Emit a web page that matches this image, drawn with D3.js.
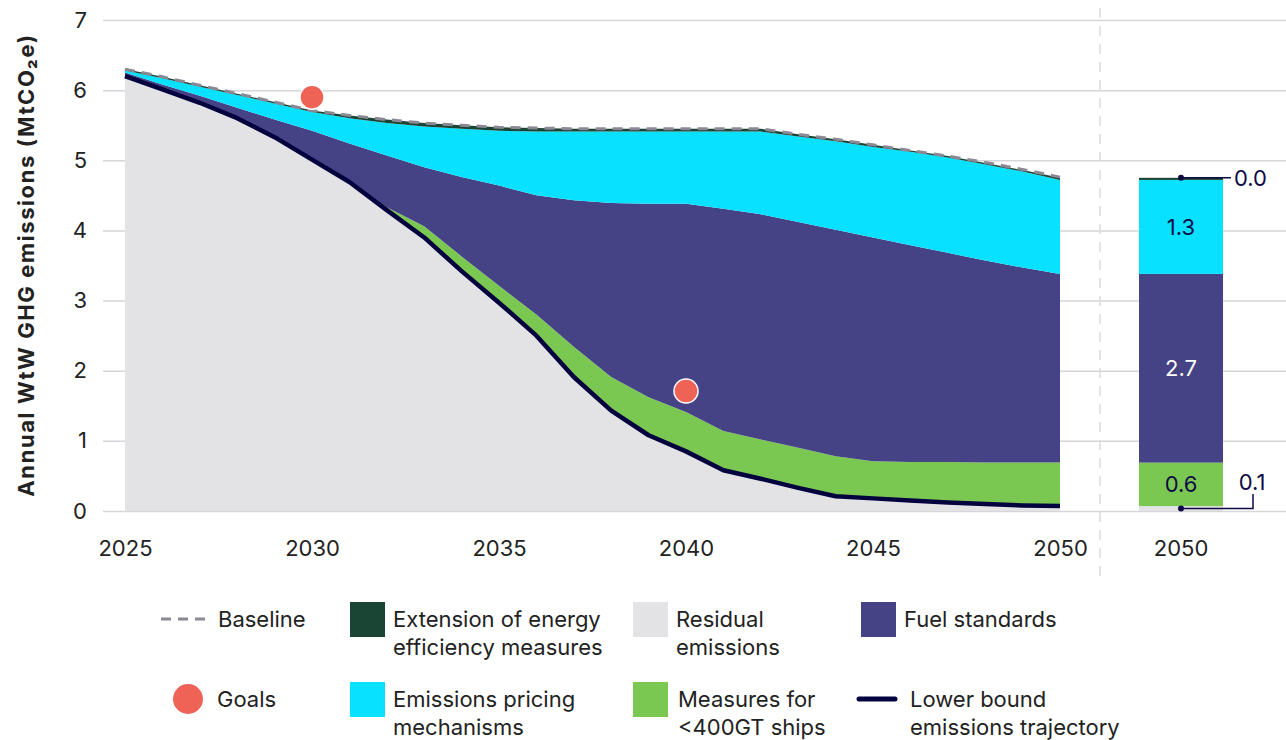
<!DOCTYPE html>
<html>
<head>
<meta charset="utf-8">
<script src="https://cdn.jsdelivr.net/npm/d3@7"></script>
<style>
  html, body { margin: 0; padding: 0; background: #fff; }
  svg { display: block; font-family: Inter, "Noto Sans", sans-serif; }
</style>
</head>
<body>
<svg id="chart" width="1286" height="740"></svg>
<script>
// Years on the horizontal axis
const years = [2025, 2026, 2027, 2028, 2029, 2030, 2031, 2032, 2033, 2034, 2035, 2036, 2037,
               2038, 2039, 2040, 2041, 2042, 2043, 2044, 2045, 2046, 2047, 2048, 2049, 2050];

// Stacked components, MtCO2e (bottom to top)
const residual = [6.20, 6.01, 5.82, 5.60, 5.33, 5.01, 4.69, 4.29, 3.90, 3.42, 2.97, 2.50, 1.91,
                  1.43, 1.08, 0.85, 0.58, 0.46, 0.33, 0.21, 0.18, 0.15, 0.12, 0.10, 0.08, 0.07];
const smallShips = [0, 0, 0, 0, 0, 0, 0, 0.04, 0.16, 0.21, 0.24, 0.30, 0.43,
                    0.48, 0.54, 0.56, 0.56, 0.56, 0.57, 0.57, 0.53, 0.55, 0.58, 0.59, 0.61, 0.62];
const fuelStandards = [0.05, 0.07, 0.10, 0.15, 0.25, 0.41, 0.55, 0.74, 0.84, 1.13, 1.43, 1.70, 2.09,
                       2.48, 2.76, 2.97, 3.17, 3.21, 3.22, 3.23, 3.19, 3.09, 2.98, 2.88, 2.78, 2.69];
const pricing = [0.03, 0.09, 0.13, 0.18, 0.23, 0.27, 0.36, 0.46, 0.58, 0.69, 0.78, 0.91, 0.98,
                 1.02, 1.03, 1.03, 1.10, 1.18, 1.22, 1.26, 1.29, 1.33, 1.36, 1.37, 1.37, 1.34];
const efficiency = [0.02, 0.02, 0.02, 0.02, 0.02, 0.02, 0.04, 0.05, 0.05, 0.05, 0.05, 0.05, 0.04,
                    0.04, 0.04, 0.04, 0.04, 0.04, 0.03, 0.03, 0.03, 0.02, 0.02, 0.02, 0.02, 0.03];

// Baseline trajectory (dashed)
const baseline = [6.30, 6.19, 6.07, 5.95, 5.83, 5.71, 5.64, 5.58, 5.53, 5.50, 5.47, 5.46, 5.45,
                  5.45, 5.45, 5.45, 5.45, 5.45, 5.37, 5.30, 5.22, 5.14, 5.06, 4.97, 4.87, 4.76];

// Goal markers
const goalYears = [2030, 2040];
const goalValues = [5.90, 1.71];

const yTicks = [0, 1, 2, 3, 4, 5, 6, 7];
const xTicks = [2025, 2030, 2035, 2040, 2045, 2050];

const keys = ["residual", "smallShips", "fuelStandards", "pricing", "efficiency"];
const colors = {
  residual: "#e3e3e6",
  smallShips: "#7ac852",
  fuelStandards: "#454385",
  pricing: "#08e1ff",
  efficiency: "#1a4535"
};
const navy = "#04013f";
const FS = 22;

const rows = years.map((yr, i) => ({
  year: yr,
  residual: residual[i],
  smallShips: smallShips[i],
  fuelStandards: fuelStandards[i],
  pricing: pricing[i],
  efficiency: efficiency[i]
}));

const stacked = d3.stack().keys(keys)(rows);

const svg = d3.select("#chart");
const x = d3.scaleLinear().domain([2025, 2050]).range([125, 1060]);
const y = d3.scaleLinear().domain([0, 7]).range([511, 20]);

// Gridlines across the whole width
const grid = svg.append("g").attr("transform", "translate(103,0)")
  .call(d3.axisRight(y).tickValues(yTicks).tickSize(1183).tickFormat(""));
grid.select(".domain").remove();
grid.selectAll(".tick line").attr("stroke", "#d6d6d9").attr("stroke-width", 1.5);

// Y tick labels
const yAxis = svg.append("g").attr("transform", "translate(87,0)")
  .call(d3.axisLeft(y).tickValues(yTicks).tickSize(0).tickPadding(0).tickFormat(d3.format("d")));
yAxis.select(".domain").remove();
yAxis.selectAll("text").attr("font-size", FS).attr("fill", "#222")
  .attr("font-family", "Inter, sans-serif");

// Y axis title
svg.append("text")
  .attr("transform", "translate(34,265) rotate(-90)")
  .attr("text-anchor", "middle")
  .attr("font-size", 22).attr("font-weight", 700).attr("fill", "#222")
  .attr("letter-spacing", 1.6)
  .text("Annual WtW GHG emissions (MtCO₂e)");

// Stacked areas
const area = d3.area()
  .x(d => x(d.data.year))
  .y0(d => y(d[0]))
  .y1(d => y(d[1]));

svg.append("g").selectAll("path")
  .data(stacked)
  .join("path")
  .attr("d", area)
  .attr("fill", d => colors[d.key]);

// Baseline dashed line
const line = d3.line().x((d, i) => x(years[i])).y(d => y(d));
svg.append("path")
  .attr("d", line(baseline))
  .attr("fill", "none")
  .attr("stroke", "#8b8896")
  .attr("stroke-width", 3)
  .attr("stroke-dasharray", "10,7");

// Lower bound trajectory
svg.append("path")
  .attr("d", line(residual))
  .attr("fill", "none")
  .attr("stroke", navy)
  .attr("stroke-width", 4.5)
  .attr("stroke-linejoin", "round");

// Goals
svg.append("g").selectAll("circle")
  .data(goalYears)
  .join("circle")
  .attr("cx", d => x(d))
  .attr("cy", (d, i) => y(goalValues[i]))
  .attr("r", 12)
  .attr("fill", "#ef6357")
  .attr("stroke", "#fff")
  .attr("stroke-width", 1.5);

// X axis labels
const xAxis = svg.append("g").attr("transform", "translate(0,511)")
  .call(d3.axisBottom(x).tickValues(xTicks).tickSize(0).tickPadding(29).tickFormat(d3.format("d")));
xAxis.select(".domain").remove();
xAxis.selectAll("text").attr("font-size", FS).attr("fill", "#222")
  .attr("font-family", "Inter, sans-serif");

// Separator between the time series and the 2050 breakdown
svg.append("line")
  .attr("x1", 1100).attr("x2", 1100).attr("y1", 8).attr("y2", 582)
  .attr("stroke", "#dcdcdc").attr("stroke-width", 1.5).attr("stroke-dasharray", "10,8");

// 2050 breakdown bar
const xBar = d3.scaleBand().domain(["2050"]).range([1139, 1223]);
const last = years.length - 1;
const barSegs = stacked.map(s => ({ key: s.key, y0: s[last][0], y1: s[last][1], v: s[last][1] - s[last][0] }));

svg.append("g").selectAll("rect")
  .data(barSegs)
  .join("rect")
  .attr("x", xBar("2050"))
  .attr("width", xBar.bandwidth())
  .attr("y", d => y(d.y1))
  .attr("height", d => y(d.y0) - y(d.y1))
  .attr("fill", d => colors[d.key]);

const fmt = d3.format(".1f");
const cx = xBar("2050") + xBar.bandwidth() / 2;

// In-bar labels
const inside = barSegs.filter(d => ["smallShips", "fuelStandards", "pricing"].includes(d.key));
svg.append("g").selectAll("text")
  .data(inside)
  .join("text")
  .attr("x", cx)
  .attr("y", d => y((d.y0 + d.y1) / 2))
  .attr("dy", "0.35em")
  .attr("text-anchor", "middle")
  .attr("font-size", FS)
  .attr("fill", d => d.key === "fuelStandards" ? "#ffffff" : "#0d0a45")
  .text(d => fmt(d.v));

// Callouts for the thin segments
const effSeg = barSegs.find(d => d.key === "efficiency");
const resSeg = barSegs.find(d => d.key === "residual");
const callout = svg.append("g").attr("stroke", "#0d0a45").attr("stroke-width", 1.5).attr("fill", "none");
const yTop = y(effSeg.y1);
callout.append("line").attr("x1", cx).attr("x2", 1231).attr("y1", yTop).attr("y2", yTop);
const yRes = y((resSeg.y0 + resSeg.y1) / 2);
callout.append("path").attr("d", `M${cx},${yRes}H1253V494`);
svg.append("circle").attr("cx", cx).attr("cy", yTop).attr("r", 3).attr("fill", "#0d0a45");
svg.append("circle").attr("cx", cx).attr("cy", yRes).attr("r", 3).attr("fill", "#0d0a45");
svg.append("text").attr("x", 1234).attr("y", yTop).attr("dy", "0.35em")
  .attr("font-size", FS).attr("fill", "#0d0a45").text(fmt(effSeg.v));
svg.append("text").attr("x", 1252).attr("y", 482).attr("dy", "0.35em").attr("text-anchor", "middle")
  .attr("font-size", FS).attr("fill", "#0d0a45").text(fmt(resSeg.v));

// Bar category label
svg.append("text").attr("x", cx).attr("y", 540).attr("dy", "0.71em").attr("text-anchor", "middle")
  .attr("font-size", FS).attr("fill", "#222").text("2050");

// Legend
const legend = svg.append("g").attr("font-size", FS).attr("fill", "#222");
function legendText(xp, yp, lines) {
  const t = legend.append("text").attr("x", xp).attr("y", yp);
  lines.forEach((l, i) => t.append("tspan").attr("x", xp).attr("dy", i === 0 ? 0 : 28).text(l));
}
function swatch(xp, yp, color) {
  legend.append("rect").attr("x", xp).attr("y", yp).attr("width", 35).attr("height", 35).attr("fill", color);
}
// Row 1
legend.append("line").attr("x1", 161).attr("x2", 208).attr("y1", 619).attr("y2", 619)
  .attr("stroke", "#8b8896").attr("stroke-width", 3).attr("stroke-dasharray", "10,7");
legendText(218, 627, ["Baseline"]);
swatch(350, 602, colors.efficiency);
legendText(393, 627, ["Extension of energy", "efficiency measures"]);
swatch(633, 602, colors.residual);
legendText(676, 627, ["Residual", "emissions"]);
swatch(861, 602, colors.fuelStandards);
legendText(904, 627, ["Fuel standards"]);
// Row 2
legend.append("circle").attr("cx", 188).attr("cy", 699).attr("r", 15).attr("fill", "#ef6357");
legendText(217, 707, ["Goals"]);
swatch(350, 682, colors.pricing);
legendText(393, 707, ["Emissions pricing", "mechanisms"]);
swatch(633, 682, colors.smallShips);
legendText(678, 707, ["Measures for", "<400GT ships"]);
legend.append("line").attr("x1", 859).attr("x2", 895).attr("y1", 699).attr("y2", 699)
  .attr("stroke", navy).attr("stroke-width", 5).attr("stroke-linecap", "round");
legendText(910, 707, ["Lower bound", "emissions trajectory"]);
</script>
</body>
</html>
